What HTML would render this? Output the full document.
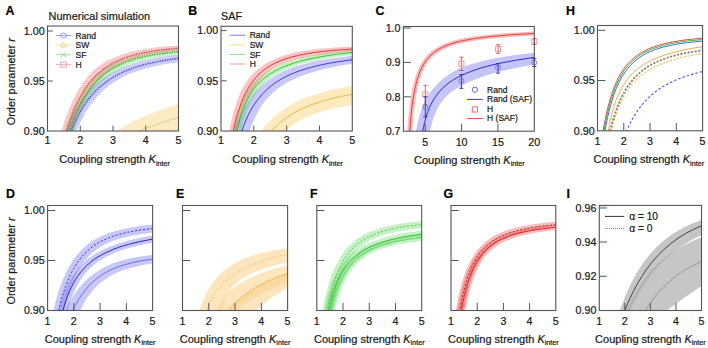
<!DOCTYPE html>
<html><head><meta charset="utf-8"><style>
html,body{margin:0;padding:0;background:#fff;width:708px;height:348px;overflow:hidden;}
svg{display:block;}
text{font-family:"Liberation Sans", sans-serif;stroke:#1a1a1a;stroke-width:0.22px;}
</style></head><body>
<svg width="708" height="348" viewBox="0 0 708 348" font-family='"Liberation Sans", sans-serif'>
<defs><clipPath id="clipA"><rect x="47.5" y="26" width="131.0" height="105"/></clipPath><clipPath id="clipB"><rect x="221" y="26.3" width="131.3" height="104.7"/></clipPath><clipPath id="clipC"><rect x="403.4" y="26.5" width="130.89999999999998" height="104.69999999999999"/></clipPath><clipPath id="clipH"><rect x="597.5" y="25.5" width="105.10000000000002" height="105.30000000000001"/></clipPath><clipPath id="clipD"><rect x="47.6" y="205.5" width="105.0" height="105.0"/></clipPath><clipPath id="clipE"><rect x="182.5" y="205.5" width="105.10000000000002" height="105.0"/></clipPath><clipPath id="clipF"><rect x="316.8" y="205.5" width="104.89999999999998" height="105.0"/></clipPath><clipPath id="clipG"><rect x="451" y="205.5" width="104.79999999999995" height="105.0"/></clipPath><clipPath id="clipI"><rect x="599.3" y="205.4" width="102.20000000000005" height="105.1"/></clipPath></defs>
<rect width="708" height="348" fill="#fff"/>
<path d="M74.4,170.9 L78.7,165.0 L83.2,159.5 L87.9,154.3 L92.8,149.4 L98.1,144.5 L103.7,140.0 L109.6,135.6 L115.8,131.5 L122.3,127.5 L129.1,123.7 L136.5,120.0 L144.1,116.6 L152.1,113.3 L160.5,110.1 L169.3,107.1 L178.5,104.3 L178.5,130.5 L142.6,135.6 L125.4,138.2 L108.8,140.9 L92.8,143.7 L77.2,146.6 L62.1,149.6 L47.5,152.7 Z" fill="#fbd88a" stroke="none" opacity="0.5" clip-path="url(#clipA)"/>
<path d="M59.7,191.9 L61.6,182.4 L63.6,173.5 L65.6,165.2 L67.7,157.2 L70.0,149.5 L72.3,142.5 L74.7,135.8 L77.2,129.5 L79.8,123.7 L82.5,118.2 L85.3,113.1 L88.3,108.2 L91.4,103.8 L94.6,99.6 L97.9,95.9 L101.8,91.9 L105.4,88.6 L109.2,85.5 L113.3,82.7 L117.5,80.0 L122.1,77.5 L127.0,75.1 L131.2,73.3 L136.8,71.2 L142.7,69.4 L149.0,67.6 L155.7,66.1 L162.9,64.6 L170.6,63.3 L178.9,62.0 L195.2,60.3 L194.5,52.8 L184.7,53.8 L173.7,55.1 L166.1,56.2 L159.0,57.3 L151.8,58.7 L145.1,60.2 L138.7,61.9 L132.8,63.7 L126.3,66.0 L121.1,68.1 L116.0,70.5 L111.1,73.1 L106.4,75.9 L101.9,79.0 L97.7,82.4 L93.6,86.0 L89.9,89.8 L86.2,94.1 L82.8,98.5 L79.6,103.3 L76.4,108.5 L73.5,113.8 L70.6,119.6 L67.9,125.8 L65.3,132.2 L62.8,139.2 L60.4,146.6 L58.2,154.3 L56.0,162.5 L53.8,171.3 L51.8,180.4 L49.9,190.1 Z" fill="#4848f0" stroke="none" opacity="0.28" clip-path="url(#clipA)"/>
<path d="M59.5,191.8 L61.4,181.3 L63.4,171.4 L65.4,161.9 L67.6,153.1 L69.8,144.8 L72.1,137.0 L74.5,129.6 L77.0,122.7 L79.6,116.4 L82.2,110.4 L85.0,104.9 L88.0,99.8 L91.0,95.0 L94.2,90.7 L97.4,86.8 L101.2,82.7 L104.7,79.4 L108.4,76.3 L112.2,73.5 L116.3,70.9 L120.8,68.4 L125.5,66.2 L130.5,64.2 L135.2,62.6 L141.1,60.9 L147.4,59.3 L154.3,58.0 L161.6,56.7 L169.8,55.6 L178.7,54.6 L195.0,53.4 L194.7,47.9 L184.9,48.5 L171.7,49.6 L164.2,50.3 L157.3,51.2 L150.2,52.3 L143.6,53.5 L137.4,54.9 L131.6,56.5 L125.3,58.5 L120.2,60.4 L115.2,62.6 L110.4,65.1 L105.9,67.8 L101.5,70.9 L97.3,74.2 L93.4,77.8 L89.8,81.9 L86.3,86.2 L83.0,90.9 L79.8,95.9 L76.8,101.2 L73.9,107.1 L71.1,113.3 L68.4,119.8 L65.9,126.8 L63.5,134.3 L61.1,142.4 L58.9,150.8 L56.7,159.9 L54.6,169.3 L52.6,179.6 L50.6,190.2 Z" fill="#28d028" stroke="none" opacity="0.26" clip-path="url(#clipA)"/>
<path d="M58.5,191.5 L60.3,180.7 L62.2,170.5 L64.2,161.0 L66.2,152.0 L68.4,143.5 L70.3,136.4 L72.6,129.0 L75.0,122.0 L77.5,115.4 L80.1,109.3 L82.8,103.6 L85.6,98.4 L88.5,93.5 L91.6,89.1 L94.8,85.0 L98.2,81.3 L102.7,76.8 L105.7,74.0 L109.4,71.1 L113.2,68.5 L117.4,65.9 L122.0,63.5 L127.1,61.3 L131.7,59.5 L137.8,57.7 L144.4,56.1 L151.6,54.6 L159.4,53.3 L168.6,52.1 L178.7,51.0 L195.0,50.0 L194.7,44.5 L170.3,46.0 L156.7,47.3 L149.8,48.2 L143.3,49.3 L137.3,50.5 L131.6,51.8 L124.6,53.8 L119.7,55.4 L114.6,57.4 L109.8,59.6 L105.1,62.1 L100.7,64.9 L96.5,68.0 L92.6,71.3 L88.8,75.4 L85.2,79.8 L81.7,84.6 L78.5,89.7 L75.4,95.2 L72.4,101.2 L69.6,107.5 L66.8,114.5 L64.2,122.0 L61.8,129.9 L59.5,138.0 L56.9,147.9 L54.7,157.5 L52.6,167.7 L50.6,178.6 L48.6,189.9 Z" fill="#f03030" stroke="none" opacity="0.27" clip-path="url(#clipA)"/>
<path d="M76.0,170.9 L80.7,166.6 L85.6,162.5 L90.8,158.4 L96.1,154.6 L101.6,150.8 L107.4,147.2 L113.3,143.8 L119.5,140.4 L125.8,137.2 L132.6,134.1 L139.5,131.0 L146.7,128.1 L154.3,125.3 L162.1,122.5 L170.1,119.9 L178.5,117.4" fill="none" stroke="#e2b440" stroke-width="1.1" stroke-dasharray="1.3 1.5" opacity="1" clip-path="url(#clipA)" />
<path d="M59.2,170.4 L62.9,156.0 L64.9,149.0 L67.0,142.5 L69.0,136.7 L71.3,130.7 L73.5,125.3 L75.8,120.4 L78.3,115.5 L80.7,111.0 L83.4,106.6 L86.0,102.7 L88.9,98.8 L92.0,95.0 L95.1,91.6 L98.3,88.4 L101.8,85.3 L105.3,82.5 L109.0,79.9 L112.9,77.4 L117.0,75.0 L121.1,73.0 L125.6,70.9 L130.3,69.1 L135.2,67.3 L140.4,65.7 L145.9,64.2 L151.6,62.9 L157.8,61.6 L164.4,60.4 L178.5,58.3" fill="none" stroke="#5050d8" stroke-width="1.5" stroke-dasharray="1.5 1.0" opacity="1" clip-path="url(#clipA)" />
<path d="M59.0,170.4 L62.7,154.1 L64.5,147.0 L66.6,139.7 L68.6,133.0 L70.9,126.3 L73.1,120.2 L75.4,114.7 L77.8,109.2 L80.3,104.2 L83.0,99.4 L85.6,95.0 L88.5,90.8 L91.4,87.0 L94.4,83.4 L97.7,79.9 L101.0,76.8 L104.5,74.0 L108.2,71.3 L111.9,68.9 L115.8,66.7 L120.1,64.6 L124.4,62.7 L129.1,60.9 L134.0,59.3 L139.1,57.9 L144.7,56.6 L150.6,55.4 L156.8,54.4 L163.5,53.4 L178.5,51.8" fill="none" stroke="#44b444" stroke-width="1.5" stroke-dasharray="1.5 1.0" opacity="1" clip-path="url(#clipA)" />
<path d="M57.1,170.6 L60.8,153.2 L62.7,145.5 L64.7,137.8 L66.8,130.7 L68.8,124.3 L71.1,117.8 L73.3,112.0 L75.8,106.2 L78.3,101.0 L80.7,96.4 L83.4,91.8 L86.2,87.4 L89.1,83.5 L92.2,79.7 L95.5,76.2 L98.8,73.1 L102.2,70.2 L105.9,67.5 L109.6,65.1 L113.5,62.9 L117.8,60.7 L122.3,58.8 L127.0,57.1 L132.2,55.5 L137.5,54.1 L143.2,52.8 L149.2,51.7 L155.7,50.7 L162.7,49.8 L178.5,48.2" fill="none" stroke="#dc5050" stroke-width="1.5" stroke-dasharray="1.5 1.0" opacity="1" clip-path="url(#clipA)" />
<line x1="47.5" y1="31.00" x2="52.8" y2="31.00" stroke="#555555" stroke-width="1"/>
<text x="44.6" y="34.8" font-size="10.7" text-anchor="end" font-weight="normal" fill="#1a1a1a" >1.00</text>
<line x1="47.5" y1="81.00" x2="52.8" y2="81.00" stroke="#555555" stroke-width="1"/>
<text x="44.6" y="84.80000000000005" font-size="10.7" text-anchor="end" font-weight="normal" fill="#1a1a1a" >0.95</text>
<text x="44.6" y="134.8" font-size="10.7" text-anchor="end" font-weight="normal" fill="#1a1a1a" >0.90</text>
<text x="47.5" y="144.0" font-size="10.7" text-anchor="middle" font-weight="normal" fill="#1a1a1a" >1</text>
<line x1="80.25" y1="131" x2="80.25" y2="125.7" stroke="#555555" stroke-width="1"/>
<text x="80.25" y="144.0" font-size="10.7" text-anchor="middle" font-weight="normal" fill="#1a1a1a" >2</text>
<line x1="113.00" y1="131" x2="113.00" y2="125.7" stroke="#555555" stroke-width="1"/>
<text x="113.0" y="144.0" font-size="10.7" text-anchor="middle" font-weight="normal" fill="#1a1a1a" >3</text>
<line x1="145.75" y1="131" x2="145.75" y2="125.7" stroke="#555555" stroke-width="1"/>
<text x="145.75" y="144.0" font-size="10.7" text-anchor="middle" font-weight="normal" fill="#1a1a1a" >4</text>
<text x="178.5" y="144.0" font-size="10.7" text-anchor="middle" font-weight="normal" fill="#1a1a1a" >5</text>
<rect x="47.5" y="26" width="131.0" height="105" fill="none" stroke="#555555" stroke-width="1.1"/>
<text x="114.6" y="163.3" font-size="11" text-anchor="middle" fill="#1a1a1a">Coupling strength <tspan font-style="italic">K</tspan><tspan font-size="7.2" dy="2.6">inter</tspan></text>
<text transform="translate(15.1,81.7) rotate(-90)" font-size="10.9" text-anchor="middle" fill="#1a1a1a">Order parameter <tspan font-style="italic">r</tspan></text>
<text x="5.4" y="15" font-size="12.4" text-anchor="start" font-weight="bold" fill="#000" >A</text>
<text x="48.6" y="19.8" font-size="10.95" text-anchor="start" font-weight="normal" fill="#1a1a1a" >Numerical simulation</text>
<line x1="56" y1="35.5" x2="71" y2="35.5" stroke="#8a8ae8" stroke-width="0.8"/>
<ellipse cx="63.5" cy="35.5" rx="3" ry="2.5" fill="none" stroke="#8a8ae8" stroke-width="0.9"/>
<text x="75.6" y="38.5" font-size="8.5" text-anchor="start" font-weight="normal" fill="#1a1a1a" >Rand</text>
<line x1="56" y1="45" x2="71" y2="45" stroke="#f2d48a" stroke-width="0.8"/>
<path d="M60.5,47.2 L63.5,42 L66.5,47.2 Z" fill="none" stroke="#f2d48a" stroke-width="0.9"/>
<text x="75.6" y="48" font-size="8.5" text-anchor="start" font-weight="normal" fill="#1a1a1a" >SW</text>
<line x1="56" y1="54.7" x2="71" y2="54.7" stroke="#8ed88e" stroke-width="0.8"/>
<path d="M60.7,52.2 L66.3,57.2 M60.7,57.2 L66.3,52.2" stroke="#8ed88e" stroke-width="0.9"/>
<text x="75.6" y="57.7" font-size="8.5" text-anchor="start" font-weight="normal" fill="#1a1a1a" >SF</text>
<line x1="56" y1="64.6" x2="71" y2="64.6" stroke="#eea0a0" stroke-width="0.8"/>
<rect x="60.7" y="61.99999999999999" width="5.6" height="5.2" fill="none" stroke="#eea0a0" stroke-width="0.9"/>
<text x="75.6" y="67.6" font-size="8.5" text-anchor="start" font-weight="normal" fill="#1a1a1a" >H</text>
<path d="M238.9,170.9 L243.2,160.9 L247.7,151.7 L252.4,143.3 L257.4,135.8 L260.0,132.1 L262.7,128.8 L265.4,125.6 L268.3,122.5 L271.1,119.6 L274.2,116.8 L277.3,114.2 L280.6,111.6 L283.9,109.2 L287.4,107.0 L290.9,104.9 L294.6,102.8 L302.4,99.1 L310.8,95.8 L319.8,92.9 L329.7,90.3 L340.4,88.1 L352.3,86.1 L352.3,104.8 L341.8,106.7 L332.3,108.8 L323.6,111.0 L315.7,113.5 L308.5,116.3 L302.0,119.3 L296.3,122.5 L291.0,126.1 L286.3,130.0 L282.0,134.4 L278.2,139.1 L274.8,144.3 L271.8,149.8 L269.0,156.1 L266.6,163.0 L264.3,170.9 Z" fill="#fbd88a" stroke="none" opacity="0.55" clip-path="url(#clipB)"/>
<path d="M236.3,191.9 L237.7,182.4 L239.1,173.7 L240.7,165.3 L242.3,157.4 L244.0,150.2 L246.1,142.1 L248.0,135.8 L250.0,129.8 L252.1,124.3 L254.3,119.1 L256.7,114.3 L259.2,109.8 L261.9,105.5 L264.8,101.5 L267.9,97.8 L271.2,94.3 L274.7,91.2 L278.3,88.3 L282.4,85.4 L286.7,82.8 L291.3,80.4 L296.2,78.0 L301.6,75.8 L307.0,73.9 L313.5,71.9 L320.5,70.0 L328.0,68.2 L336.0,66.6 L344.1,65.1 L352.8,63.7 L369.1,61.9 L368.3,53.9 L342.0,56.9 L327.5,58.9 L319.9,60.3 L312.8,61.7 L306.2,63.4 L299.7,65.2 L293.8,67.1 L288.2,69.2 L282.9,71.5 L278.0,74.0 L273.3,76.8 L268.8,79.7 L264.7,82.9 L260.8,86.3 L257.0,90.0 L253.4,94.0 L250.1,98.3 L247.0,102.9 L244.0,107.9 L241.2,113.3 L238.6,118.9 L236.1,125.0 L233.8,131.6 L231.6,138.4 L229.9,144.6 L228.0,152.7 L226.2,161.0 L224.5,170.1 L222.9,179.8 L221.5,189.9 Z" fill="#4848f0" stroke="none" opacity="0.3" clip-path="url(#clipB)"/>
<path d="M232.8,190.7 L234.8,169.4 L236.0,159.7 L237.2,150.7 L238.6,142.5 L240.0,134.9 L241.6,127.8 L243.3,121.3 L245.1,115.4 L247.1,109.8 L249.3,104.8 L251.6,100.1 L254.0,96.0 L256.6,92.1 L259.8,87.9 L263.2,84.2 L266.6,81.0 L270.3,78.1 L274.4,75.3 L278.8,72.7 L283.1,70.5 L287.7,68.4 L293.2,66.4 L299.2,64.5 L305.9,62.7 L313.1,61.0 L320.9,59.5 L329.4,58.0 L339.1,56.6 L349.6,55.2 L368.9,53.3 L368.5,48.4 L344.1,50.8 L334.9,51.9 L326.3,53.1 L318.0,54.4 L310.3,55.9 L303.1,57.5 L296.4,59.3 L289.9,61.3 L282.9,63.8 L277.8,65.9 L273.0,68.2 L268.4,70.8 L264.1,73.7 L260.1,76.8 L256.4,80.2 L253.2,83.6 L250.3,87.2 L247.3,91.6 L244.5,96.3 L242.0,101.3 L239.8,106.6 L237.7,112.4 L235.7,118.7 L234.0,125.3 L232.3,132.5 L230.8,140.5 L229.4,148.8 L228.1,157.9 L226.9,168.0 L225.8,178.5 L224.8,190.1 Z" fill="#28d028" stroke="none" opacity="0.28" clip-path="url(#clipB)"/>
<path d="M228.2,191.1 L229.6,178.5 L231.0,167.1 L232.5,156.6 L234.0,146.7 L235.4,139.6 L237.1,131.6 L238.9,124.6 L240.8,118.0 L242.8,111.7 L244.9,106.0 L247.2,100.7 L249.6,95.9 L253.6,88.8 L256.2,84.7 L259.4,80.5 L263.0,76.6 L266.3,73.5 L269.9,70.7 L273.0,68.6 L277.3,66.3 L282.0,64.2 L287.0,62.3 L292.5,60.5 L298.4,58.9 L305.0,57.4 L312.3,56.1 L320.3,54.9 L329.0,53.7 L340.1,52.6 L352.4,51.5 L368.8,50.7 L368.6,45.7 L339.0,47.2 L322.3,48.5 L314.1,49.3 L306.6,50.4 L299.7,51.5 L293.2,52.9 L287.2,54.5 L281.6,56.2 L276.4,58.2 L271.6,60.4 L266.3,63.3 L262.3,65.9 L258.3,68.9 L254.5,72.3 L251.3,75.6 L248.3,79.3 L245.5,83.2 L242.9,87.5 L240.4,92.6 L238.1,98.3 L236.0,104.4 L234.0,110.8 L231.9,118.6 L230.0,127.2 L228.3,135.7 L226.3,147.6 L224.8,157.1 L223.4,167.5 L220.8,190.4 Z" fill="#f03030" stroke="none" opacity="0.29" clip-path="url(#clipB)"/>
<path d="M249.2,170.7 L252.4,162.3 L256.1,154.2 L260.0,147.0 L264.4,140.2 L268.9,134.2 L273.8,128.6 L279.2,123.5 L284.9,118.8 L291.1,114.6 L297.8,110.8 L305.0,107.3 L313.1,104.1 L321.7,101.3 L330.9,98.7 L341.2,96.4 L352.3,94.3" fill="none" stroke="#e8b440" stroke-width="0.9" opacity="1" clip-path="url(#clipB)" />
<path d="M232.1,170.3 L235.0,155.8 L236.6,148.7 L238.3,142.4 L240.1,136.1 L242.0,130.5 L243.8,125.4 L245.9,120.4 L247.9,115.8 L250.2,111.4 L252.6,107.1 L255.1,103.2 L257.8,99.5 L260.7,96.0 L263.7,92.6 L266.8,89.6 L270.1,86.7 L273.6,84.0 L277.3,81.5 L281.4,79.0 L285.5,76.8 L290.0,74.6 L294.8,72.6 L299.7,70.8 L305.0,69.1 L310.6,67.5 L316.5,65.9 L322.9,64.5 L329.5,63.2 L336.7,62.0 L352.3,59.7" fill="none" stroke="#3b3bd6" stroke-width="1.0" opacity="1" clip-path="url(#clipB)" />
<path d="M230.7,170.5 L232.7,153.8 L233.9,145.7 L235.2,138.7 L236.6,131.6 L238.1,125.4 L239.7,119.3 L241.3,114.1 L243.2,108.9 L245.2,103.9 L247.3,99.6 L249.6,95.5 L252.0,91.6 L254.7,88.0 L257.6,84.6 L260.5,81.6 L263.7,78.6 L267.2,75.9 L270.9,73.4 L274.8,71.1 L279.2,68.8 L283.7,66.8 L288.6,64.9 L293.9,63.1 L299.7,61.4 L305.7,59.8 L312.0,58.4 L319.0,57.0 L326.4,55.8 L334.4,54.6 L352.3,52.4" fill="none" stroke="#3cc23c" stroke-width="1.0" opacity="1" clip-path="url(#clipB)" />
<path d="M226.8,170.7 L229.4,151.7 L230.9,143.1 L232.3,135.5 L233.9,127.8 L235.6,121.1 L237.4,114.4 L239.3,108.5 L241.3,102.7 L243.4,97.7 L245.7,92.9 L247.9,88.7 L250.4,84.7 L253.1,81.0 L255.9,77.4 L259.0,74.2 L262.1,71.4 L265.6,68.7 L269.3,66.2 L273.2,64.0 L277.3,62.0 L281.8,60.2 L286.8,58.4 L291.9,56.9 L297.4,55.6 L303.6,54.3 L310.2,53.1 L317.2,52.1 L324.8,51.2 L333.2,50.4 L352.3,49.0" fill="none" stroke="#e03a3a" stroke-width="1.0" opacity="1" clip-path="url(#clipB)" />
<line x1="221" y1="30.60" x2="226.5" y2="30.60" stroke="#555555" stroke-width="1"/>
<text x="218.1" y="34.4" font-size="10.7" text-anchor="end" font-weight="normal" fill="#1a1a1a" >1.00</text>
<line x1="221" y1="80.80" x2="226.5" y2="80.80" stroke="#555555" stroke-width="1"/>
<text x="218.1" y="84.60000000000007" font-size="10.7" text-anchor="end" font-weight="normal" fill="#1a1a1a" >0.95</text>
<text x="218.1" y="134.8" font-size="10.7" text-anchor="end" font-weight="normal" fill="#1a1a1a" >0.90</text>
<text x="221.0" y="144.0" font-size="10.7" text-anchor="middle" font-weight="normal" fill="#1a1a1a" >1</text>
<line x1="253.82" y1="131" x2="253.82" y2="125.5" stroke="#555555" stroke-width="1"/>
<text x="253.825" y="144.0" font-size="10.7" text-anchor="middle" font-weight="normal" fill="#1a1a1a" >2</text>
<line x1="286.65" y1="131" x2="286.65" y2="125.5" stroke="#555555" stroke-width="1"/>
<text x="286.65" y="144.0" font-size="10.7" text-anchor="middle" font-weight="normal" fill="#1a1a1a" >3</text>
<line x1="319.48" y1="131" x2="319.48" y2="125.5" stroke="#555555" stroke-width="1"/>
<text x="319.475" y="144.0" font-size="10.7" text-anchor="middle" font-weight="normal" fill="#1a1a1a" >4</text>
<text x="352.3" y="144.0" font-size="10.7" text-anchor="middle" font-weight="normal" fill="#1a1a1a" >5</text>
<rect x="221" y="26.3" width="131.3" height="104.7" fill="none" stroke="#555555" stroke-width="1.1"/>
<text x="287.65" y="163.3" font-size="11" text-anchor="middle" fill="#1a1a1a">Coupling strength <tspan font-style="italic">K</tspan><tspan font-size="7.2" dy="2.6">inter</tspan></text>
<text x="188.2" y="15" font-size="12.4" text-anchor="start" font-weight="bold" fill="#000" >B</text>
<text x="221" y="20.1" font-size="10.8" text-anchor="start" font-weight="normal" fill="#1a1a1a" >SAF</text>
<line x1="229.6" y1="35.2" x2="245" y2="35.2" stroke="#6a72d8" stroke-width="0.9"/>
<text x="249.7" y="38.2" font-size="8.5" text-anchor="start" font-weight="normal" fill="#1a1a1a" >Rand</text>
<line x1="229.6" y1="44.9" x2="245" y2="44.9" stroke="#f0d890" stroke-width="0.9"/>
<text x="249.7" y="47.9" font-size="8.5" text-anchor="start" font-weight="normal" fill="#1a1a1a" >SW</text>
<line x1="229.6" y1="54.6" x2="245" y2="54.6" stroke="#86d890" stroke-width="0.9"/>
<text x="249.7" y="57.6" font-size="8.5" text-anchor="start" font-weight="normal" fill="#1a1a1a" >SF</text>
<line x1="229.6" y1="64" x2="245" y2="64" stroke="#f08a8a" stroke-width="0.9"/>
<text x="249.7" y="67" font-size="8.5" text-anchor="start" font-weight="normal" fill="#1a1a1a" >H</text>
<path d="M424.3,190.8 L425.3,171.3 L426.6,154.7 L427.4,147.5 L428.3,140.9 L429.3,134.9 L430.4,129.5 L431.6,124.3 L433.0,119.6 L434.5,115.2 L436.2,111.2 L438.1,107.5 L440.1,104.1 L442.3,100.9 L444.7,98.0 L447.4,95.2 L450.5,92.6 L453.8,90.2 L457.4,87.9 L461.4,85.7 L469.7,81.8 L474.4,79.7 L479.5,77.8 L485.3,75.8 L491.6,73.8 L498.4,72.0 L505.7,70.2 L514.0,68.3 L523.0,66.5 L535.1,64.3 L538.7,63.9 L537.2,52.4 L514.8,55.1 L506.2,56.4 L498.1,57.7 L490.2,59.3 L482.9,60.9 L476.2,62.7 L469.8,64.6 L463.7,66.8 L458.0,69.1 L451.5,72.8 L447.0,75.7 L442.9,78.8 L439.1,82.2 L435.7,85.7 L432.6,89.2 L429.8,93.0 L427.3,97.1 L424.9,101.5 L422.8,106.1 L421.0,111.0 L419.3,116.3 L417.8,122.1 L416.5,128.2 L415.3,134.8 L414.3,141.9 L413.4,150.0 L412.6,158.4 L411.9,167.8 L410.8,190.3 Z" fill="#5050f0" stroke="none" opacity="0.33" clip-path="url(#clipC)"/>
<path d="M409.6,190.5 L410.6,160.6 L411.9,135.8 L412.7,125.3 L413.5,115.8 L414.4,107.3 L415.5,99.5 L416.7,92.6 L418.0,86.2 L419.5,80.6 L421.0,75.7 L422.8,71.2 L424.8,67.1 L427.0,63.5 L429.5,60.1 L432.2,57.2 L435.2,54.6 L438.5,52.2 L442.3,50.0 L446.5,48.0 L451.2,46.2 L456.3,44.6 L462.1,43.2 L468.5,41.8 L475.7,40.6 L483.7,39.5 L492.5,38.5 L502.3,37.6 L513.2,36.7 L538.0,35.3 L537.8,31.3 L511.6,32.7 L500.5,33.5 L490.6,34.4 L481.6,35.4 L473.6,36.5 L466.3,37.7 L459.6,39.1 L453.7,40.6 L448.4,42.3 L443.6,44.1 L439.2,46.2 L435.3,48.5 L431.7,51.1 L428.5,53.9 L425.6,57.1 L423.0,60.4 L420.6,64.3 L418.5,68.5 L416.6,73.2 L414.9,78.4 L413.4,84.1 L412.0,90.5 L410.8,97.5 L409.7,105.2 L408.7,113.9 L407.8,123.2 L407.0,134.1 L405.6,159.3 L404.6,190.3 Z" fill="#f03c3c" stroke="none" opacity="0.35" clip-path="url(#clipC)"/>
<path d="M418.4,170.7 L419.7,153.6 L420.5,146.5 L421.4,139.2 L422.3,133.3 L423.5,127.4 L424.6,122.5 L425.9,117.6 L427.4,112.9 L429.1,108.5 L430.9,104.4 L432.8,100.9 L434.9,97.5 L437.3,94.1 L439.7,91.2 L442.5,88.3 L445.5,85.6 L448.8,82.9 L452.6,80.3 L456.5,78.0 L460.8,75.7 L465.5,73.6 L470.5,71.6 L475.7,69.7 L481.3,67.9 L487.5,66.2 L494.0,64.6 L501.1,63.0 L516.6,60.1 L534.3,57.4" fill="none" stroke="#2a2ad0" stroke-width="1.0" opacity="1" clip-path="url(#clipC)" />
<path d="M407.7,170.3 L408.9,143.4 L410.4,122.7 L411.2,113.9 L412.2,105.1 L413.2,97.9 L414.3,92.0 L415.5,86.1 L416.9,80.4 L418.4,75.8 L420.0,71.4 L421.8,67.4 L423.9,63.7 L426.1,60.4 L428.8,57.1 L431.7,54.3 L434.7,51.8 L438.2,49.5 L442.1,47.4 L446.2,45.6 L450.9,43.9 L456.0,42.3 L461.8,40.9 L467.9,39.7 L474.9,38.5 L482.7,37.4 L491.1,36.5 L510.5,34.8 L534.3,33.5" fill="none" stroke="#e84040" stroke-width="1.0" opacity="1" clip-path="url(#clipC)" />
<path d="M425.3,85.4 L425.3,104.6 M423.3,85.4 L427.3,85.4 M423.3,104.6 L427.3,104.6" stroke="#e46060" stroke-width="1" fill="none"/>
<rect x="422.8" y="92.0" width="5" height="5" fill="none" stroke="#f09090" stroke-width="0.9"/>
<path d="M461.4,57.2 L461.4,70.5 M459.4,57.2 L463.4,57.2 M459.4,70.5 L463.4,70.5" stroke="#e46060" stroke-width="1" fill="none"/>
<rect x="458.9" y="61.1" width="5" height="5" fill="none" stroke="#f09090" stroke-width="0.9"/>
<path d="M498.1,44.7 L498.1,53.3 M496.1,44.7 L500.1,44.7 M496.1,53.3 L500.1,53.3" stroke="#e46060" stroke-width="1" fill="none"/>
<rect x="495.6" y="46.5" width="5" height="5" fill="none" stroke="#f09090" stroke-width="0.9"/>
<path d="M534.3,38.5 L534.3,44.4 M532.3,38.5 L536.3,38.5 M532.3,44.4 L536.3,44.4" stroke="#e46060" stroke-width="1" fill="none"/>
<rect x="531.8" y="39.0" width="5" height="5" fill="none" stroke="#f09090" stroke-width="0.9"/>
<path d="M425.3,96.8 L425.3,117 M423.3,96.8 L427.3,96.8 M423.3,117 L427.3,117" stroke="#3434c4" stroke-width="1" fill="none"/>
<circle cx="425.3" cy="107.2" r="2.5" fill="none" stroke="#7070dc" stroke-width="0.9"/>
<path d="M461.4,74.5 L461.4,88.3 M459.4,74.5 L463.4,74.5 M459.4,88.3 L463.4,88.3" stroke="#3434c4" stroke-width="1" fill="none"/>
<circle cx="461.4" cy="80.9" r="2.5" fill="none" stroke="#7070dc" stroke-width="0.9"/>
<path d="M498.1,63.6 L498.1,73.1 M496.1,63.6 L500.1,63.6 M496.1,73.1 L500.1,73.1" stroke="#3434c4" stroke-width="1" fill="none"/>
<circle cx="498.1" cy="67.6" r="2.5" fill="none" stroke="#7070dc" stroke-width="0.9"/>
<path d="M534.3,58.6 L534.3,66.6 M532.3,58.6 L536.3,58.6 M532.3,66.6 L536.3,66.6" stroke="#3434c4" stroke-width="1" fill="none"/>
<circle cx="534.3" cy="62.7" r="2.5" fill="none" stroke="#7070dc" stroke-width="0.9"/>
<line x1="403.4" y1="28.00" x2="410.9" y2="28.00" stroke="#555555" stroke-width="1"/>
<text x="400.5" y="31.8" font-size="10.7" text-anchor="end" font-weight="normal" fill="#1a1a1a" >1.0</text>
<line x1="403.4" y1="62.40" x2="410.9" y2="62.40" stroke="#555555" stroke-width="1"/>
<text x="400.5" y="66.19999999999999" font-size="10.7" text-anchor="end" font-weight="normal" fill="#1a1a1a" >0.9</text>
<line x1="403.4" y1="96.80" x2="410.9" y2="96.80" stroke="#555555" stroke-width="1"/>
<text x="400.5" y="100.59999999999997" font-size="10.7" text-anchor="end" font-weight="normal" fill="#1a1a1a" >0.8</text>
<text x="400.5" y="135.0" font-size="10.7" text-anchor="end" font-weight="normal" fill="#1a1a1a" >0.7</text>
<line x1="425.22" y1="131.2" x2="425.22" y2="123.69999999999999" stroke="#555555" stroke-width="1"/>
<text x="425.21666666666664" y="146.0" font-size="10.7" text-anchor="middle" font-weight="normal" fill="#1a1a1a" >5</text>
<line x1="461.58" y1="131.2" x2="461.58" y2="123.69999999999999" stroke="#555555" stroke-width="1"/>
<text x="461.5777777777777" y="146.0" font-size="10.7" text-anchor="middle" font-weight="normal" fill="#1a1a1a" >10</text>
<line x1="497.94" y1="131.2" x2="497.94" y2="123.69999999999999" stroke="#555555" stroke-width="1"/>
<text x="497.93888888888887" y="146.0" font-size="10.7" text-anchor="middle" font-weight="normal" fill="#1a1a1a" >15</text>
<text x="534.3" y="146.0" font-size="10.7" text-anchor="middle" font-weight="normal" fill="#1a1a1a" >20</text>
<rect x="403.4" y="26.5" width="130.89999999999998" height="104.69999999999999" fill="none" stroke="#555555" stroke-width="1.1"/>
<text x="469.34999999999997" y="163.5" font-size="11" text-anchor="middle" fill="#1a1a1a">Coupling strength <tspan font-style="italic">K</tspan><tspan font-size="7.2" dy="2.6">inter</tspan></text>
<text x="375.6" y="14.9" font-size="12.4" text-anchor="start" font-weight="bold" fill="#000" >C</text>
<circle cx="474.9" cy="89.7" r="2.6" fill="none" stroke="#6060d8" stroke-width="1"/>
<text x="487.1" y="92.5" font-size="8.5" text-anchor="start" font-weight="normal" fill="#1a1a1a" >Rand</text>
<line x1="467.1" y1="99.4" x2="482.6" y2="99.4" stroke="#3030c8" stroke-width="1"/>
<text x="487.1" y="102.2" font-size="8.5" text-anchor="start" font-weight="normal" fill="#1a1a1a" >Rand (SAF)</text>
<rect x="472.3" y="106.9" width="5.2" height="5.2" fill="none" stroke="#e87070" stroke-width="1"/>
<text x="487.1" y="111.8" font-size="8.5" text-anchor="start" font-weight="normal" fill="#1a1a1a" >H</text>
<line x1="467.1" y1="118.5" x2="482.6" y2="118.5" stroke="#e85050" stroke-width="1"/>
<text x="487.1" y="121.3" font-size="8.5" text-anchor="start" font-weight="normal" fill="#1a1a1a" >H (SAF)</text>
<path d="M598.0,170.0 L600.3,150.1 L602.9,132.1 L604.2,124.5 L605.7,117.0 L607.2,110.3 L608.8,103.7 L610.5,98.0 L612.3,92.3 L614.3,87.0 L616.3,82.3 L618.4,77.8 L620.7,73.7 L623.2,69.8 L625.8,66.2 L628.4,63.1 L631.4,60.1 L634.3,57.5 L637.6,55.0 L641.1,52.8 L644.9,50.7 L649.0,48.7 L653.3,47.0 L657.9,45.5 L662.8,44.1 L668.2,42.8 L674.0,41.7 L680.2,40.6 L687.1,39.7 L702.6,38.1" fill="none" stroke="#e04848" stroke-width="1.0" opacity="1" clip-path="url(#clipH)" />
<path d="M598.7,170.7 L601.0,151.2 L603.6,133.4 L605.1,125.1 L606.5,117.7 L608.0,111.1 L609.7,104.6 L611.5,98.4 L613.3,92.9 L615.3,87.6 L617.2,83.0 L619.4,78.6 L621.7,74.5 L624.1,70.7 L626.6,67.4 L629.2,64.3 L632.2,61.3 L635.2,58.7 L638.5,56.2 L641.9,54.0 L645.7,51.9 L649.6,50.0 L653.9,48.3 L658.5,46.8 L663.5,45.4 L668.7,44.1 L674.5,43.0 L680.6,42.0 L687.3,41.0 L702.6,39.5" fill="none" stroke="#40b840" stroke-width="1.0" opacity="1" clip-path="url(#clipH)" />
<path d="M599.5,169.8 L601.9,149.9 L604.6,132.9 L606.1,124.9 L607.5,117.8 L609.0,111.4 L610.7,105.2 L612.5,99.1 L614.3,93.7 L616.3,88.6 L618.2,84.0 L620.4,79.7 L622.7,75.7 L625.1,71.9 L627.6,68.6 L630.2,65.6 L633.0,62.7 L636.0,60.1 L639.3,57.7 L642.7,55.4 L646.3,53.4 L650.3,51.6 L654.6,49.8 L659.0,48.3 L663.9,46.9 L669.2,45.7 L674.8,44.5 L680.9,43.5 L687.5,42.6 L702.6,41.0" fill="none" stroke="#4070e0" stroke-width="1.0" opacity="1" clip-path="url(#clipH)" />
<path d="M603.4,170.3 L605.2,152.2 L607.2,137.3 L609.5,124.1 L610.8,118.0 L612.3,112.1 L613.8,106.9 L615.4,101.9 L617.2,97.2 L619.0,93.0 L621.0,89.1 L623.2,85.3 L625.5,81.8 L627.9,78.5 L630.6,75.4 L633.5,72.4 L636.5,69.8 L639.8,67.2 L643.2,64.9 L647.0,62.6 L651.1,60.5 L655.4,58.5 L660.0,56.7 L664.9,55.0 L670.2,53.3 L675.8,51.8 L681.9,50.4 L688.3,49.0 L702.6,46.6" fill="none" stroke="#f0b050" stroke-width="1.0" opacity="1" clip-path="url(#clipH)" />
<path d="M604.6,170.3 L606.9,154.1 L609.3,140.3 L612.1,127.9 L613.6,122.3 L615.3,116.9 L616.9,112.0 L618.7,107.3 L620.7,102.7 L622.7,98.7 L624.8,94.8 L627.1,91.0 L629.6,87.5 L632.0,84.4 L634.7,81.4 L637.6,78.5 L640.6,75.9 L643.9,73.4 L647.3,71.0 L651.0,68.8 L654.7,66.8 L658.8,64.9 L663.1,63.1 L667.7,61.5 L672.7,59.9 L677.9,58.4 L683.5,57.0 L689.4,55.8 L702.6,53.4" fill="none" stroke="#f0bc50" stroke-width="1.1" stroke-dasharray="2 1.6" opacity="1" clip-path="url(#clipH)" />
<path d="M602.8,169.8 L605.4,153.2 L608.2,138.8 L609.7,132.3 L611.3,125.7 L613.0,119.9 L614.8,114.1 L616.6,108.9 L618.6,103.9 L620.5,99.4 L622.7,95.0 L625.0,90.8 L627.3,87.1 L629.7,83.6 L632.4,80.3 L635.2,77.1 L638.0,74.3 L640.9,71.7 L644.2,69.2 L647.7,66.8 L651.3,64.7 L655.1,62.7 L659.2,60.8 L663.5,59.1 L668.1,57.5 L673.0,56.0 L678.1,54.7 L683.7,53.4 L689.6,52.3 L702.6,50.3" fill="none" stroke="#8a8272" stroke-width="1.7" stroke-dasharray="2.2 1.4" opacity="1" clip-path="url(#clipH)" />
<path d="M614.1,170.5 L616.9,159.2 L620.0,148.5 L623.3,138.9 L626.9,130.0 L630.9,121.8 L635.0,114.6 L637.1,111.4 L639.4,108.1 L641.9,105.0 L644.4,102.1 L647.0,99.3 L649.6,96.7 L652.4,94.2 L655.4,91.8 L658.5,89.5 L661.6,87.5 L664.9,85.5 L668.4,83.6 L675.8,80.0 L683.8,76.9 L692.7,74.1 L702.6,71.5" fill="none" stroke="#4a6ae0" stroke-width="1.2" stroke-dasharray="2.5 2" opacity="1" clip-path="url(#clipH)" />
<line x1="597.5" y1="30.30" x2="605.3" y2="30.30" stroke="#555555" stroke-width="1"/>
<text x="594.6" y="34.1" font-size="10.7" text-anchor="end" font-weight="normal" fill="#1a1a1a" >1.00</text>
<line x1="597.5" y1="80.55" x2="605.3" y2="80.55" stroke="#555555" stroke-width="1"/>
<text x="594.6" y="84.35000000000005" font-size="10.7" text-anchor="end" font-weight="normal" fill="#1a1a1a" >0.95</text>
<text x="594.6" y="134.60000000000002" font-size="10.7" text-anchor="end" font-weight="normal" fill="#1a1a1a" >0.90</text>
<text x="597.5" y="144.70000000000002" font-size="10.7" text-anchor="middle" font-weight="normal" fill="#1a1a1a" >1</text>
<line x1="623.77" y1="130.8" x2="623.77" y2="123.00000000000001" stroke="#555555" stroke-width="1"/>
<text x="623.775" y="144.70000000000002" font-size="10.7" text-anchor="middle" font-weight="normal" fill="#1a1a1a" >2</text>
<line x1="650.05" y1="130.8" x2="650.05" y2="123.00000000000001" stroke="#555555" stroke-width="1"/>
<text x="650.05" y="144.70000000000002" font-size="10.7" text-anchor="middle" font-weight="normal" fill="#1a1a1a" >3</text>
<line x1="676.33" y1="130.8" x2="676.33" y2="123.00000000000001" stroke="#555555" stroke-width="1"/>
<text x="676.325" y="144.70000000000002" font-size="10.7" text-anchor="middle" font-weight="normal" fill="#1a1a1a" >4</text>
<text x="702.6" y="144.70000000000002" font-size="10.7" text-anchor="middle" font-weight="normal" fill="#1a1a1a" >5</text>
<rect x="597.5" y="25.5" width="105.10000000000002" height="105.30000000000001" fill="none" stroke="#555555" stroke-width="1.1"/>
<text x="648.75" y="163.10000000000002" font-size="11" text-anchor="middle" fill="#1a1a1a">Coupling strength <tspan font-style="italic">K</tspan><tspan font-size="7.2" dy="2.6">inter</tspan></text>
<text x="566" y="14.5" font-size="12.4" text-anchor="start" font-weight="bold" fill="#000" >H</text>
<path d="M62.1,371.9 L65.4,356.5 L69.4,340.9 L72.8,329.5 L76.5,319.3 L78.5,314.4 L80.6,309.8 L82.8,305.5 L85.0,301.4 L87.4,297.6 L89.9,294.0 L92.2,291.2 L94.9,288.0 L97.7,285.3 L100.7,282.6 L103.8,280.2 L107.1,277.9 L110.7,275.8 L114.6,273.7 L117.9,272.2 L121.7,270.7 L126.3,269.2 L131.2,267.8 L136.4,266.4 L142.0,265.3 L153.1,263.3 L166.1,262.0 L165.3,253.5 L148.0,255.4 L137.3,257.0 L131.8,258.0 L126.7,259.2 L121.8,260.5 L117.2,262.0 L112.8,263.6 L107.7,265.8 L103.7,267.7 L99.8,269.8 L96.1,272.2 L92.5,274.8 L89.1,277.6 L85.8,280.6 L82.7,283.8 L79.2,287.8 L76.3,291.6 L73.5,295.6 L70.8,300.0 L68.1,304.7 L65.6,309.6 L63.2,315.0 L60.7,320.8 L58.4,327.1 L56.1,333.8 L54.0,340.7 L50.6,353.8 L47.4,368.9 Z" fill="#5050f0" stroke="none" opacity="0.32" clip-path="url(#clipD)"/>
<path d="M58.0,370.6 L60.0,352.2 L62.3,335.8 L63.6,328.7 L64.9,321.8 L66.4,315.1 L68.0,309.1 L69.7,303.5 L71.4,298.3 L73.4,293.4 L75.4,288.9 L77.6,284.7 L79.9,280.8 L82.4,277.1 L85.0,273.7 L87.9,270.5 L91.1,267.3 L94.4,264.5 L97.8,261.9 L101.6,259.4 L105.7,257.1 L110.0,254.9 L114.6,252.8 L119.7,250.9 L125.2,249.1 L131.0,247.4 L137.3,245.8 L144.3,244.3 L151.7,242.8 L166.2,240.6 L165.2,233.6 L156.7,234.9 L147.5,236.4 L140.3,237.8 L133.6,239.3 L127.1,240.9 L121.0,242.7 L115.5,244.5 L109.8,246.7 L105.0,248.7 L100.4,251.0 L96.1,253.4 L92.0,256.0 L88.2,258.8 L84.6,261.8 L81.5,264.8 L78.4,268.2 L75.5,271.9 L72.7,275.8 L70.2,280.0 L67.8,284.5 L65.5,289.4 L63.4,294.5 L61.5,300.0 L59.6,305.9 L57.9,312.1 L56.3,318.9 L54.9,325.9 L53.6,333.3 L52.3,341.6 L51.2,350.4 L49.0,369.7 Z" fill="#5050f0" stroke="none" opacity="0.32" clip-path="url(#clipD)"/>
<path d="M53.6,370.7 L56.3,349.7 L57.8,340.1 L59.4,331.0 L61.0,322.5 L62.7,314.6 L64.5,307.3 L66.3,300.3 L68.3,294.0 L70.3,288.0 L72.4,282.5 L74.7,277.4 L77.0,272.7 L79.5,268.3 L82.1,264.3 L84.9,260.6 L87.8,257.2 L91.0,254.0 L94.3,251.2 L97.8,248.6 L101.5,246.3 L105.5,244.1 L109.9,242.1 L114.5,240.2 L119.4,238.7 L124.7,237.3 L130.4,236.0 L136.6,234.8 L143.5,233.7 L151.1,232.7 L166.0,231.3 L165.4,223.4 L156.4,224.1 L146.8,225.1 L139.4,226.1 L132.5,227.2 L126.1,228.4 L120.1,229.8 L114.7,231.3 L109.0,233.1 L104.2,235.0 L99.7,237.0 L95.4,239.3 L91.4,241.8 L87.5,244.6 L83.9,247.7 L80.7,250.8 L77.6,254.3 L74.5,258.3 L71.5,262.7 L68.8,267.3 L66.2,272.3 L63.7,277.8 L61.4,283.5 L59.1,289.9 L57.0,296.6 L55.1,303.5 L53.2,311.3 L51.4,319.6 L49.7,328.4 L48.1,337.6 L46.5,347.6 L43.6,369.5 Z" fill="#5050f0" stroke="none" opacity="0.32" clip-path="url(#clipD)"/>
<path d="M51.2,350.2 L54.0,332.7 L57.0,317.4 L58.6,310.2 L60.3,303.7 L61.9,297.8 L63.7,291.9 L65.5,286.7 L67.5,281.5 L69.6,276.6 L71.8,272.1 L74.1,267.9 L76.4,264.1 L79.0,260.3 L81.6,257.0 L84.4,253.9 L87.2,251.1 L90.2,248.5 L93.4,246.0 L96.9,243.7 L100.5,241.6 L104.3,239.8 L108.4,238.0 L112.7,236.4 L117.3,234.9 L122.2,233.6 L127.5,232.3 L133.0,231.3 L139.1,230.2 L152.6,228.5" fill="none" stroke="#3a3ad0" stroke-width="1.0" stroke-dasharray="2.2 1.8" opacity="1" clip-path="url(#clipD)" />
<path d="M55.8,349.4 L58.0,334.7 L60.3,322.2 L62.9,310.9 L64.4,305.6 L66.0,300.4 L67.6,295.8 L69.5,291.3 L71.3,287.4 L73.2,283.5 L75.4,279.8 L77.7,276.2 L80.1,272.9 L82.6,269.9 L85.2,267.1 L88.2,264.3 L91.1,261.8 L94.4,259.3 L97.9,257.0 L101.5,254.9 L105.3,252.9 L109.4,251.0 L113.8,249.1 L118.4,247.4 L123.4,245.8 L128.4,244.4 L139.8,241.6 L152.6,239.1" fill="none" stroke="#2a2ab0" stroke-width="1.0" opacity="1" clip-path="url(#clipD)" />
<path d="M59.3,350.1 L62.4,338.6 L65.7,328.2 L69.3,318.5 L73.1,309.9 L75.0,305.9 L77.2,302.0 L79.3,298.5 L81.4,295.2 L83.8,292.0 L86.2,288.9 L88.7,286.1 L91.3,283.4 L93.9,281.0 L96.7,278.6 L99.7,276.4 L102.6,274.4 L105.8,272.5 L109.1,270.8 L112.5,269.1 L116.1,267.6 L119.9,266.2 L123.8,264.9 L132.4,262.7 L141.9,260.7 L152.6,259.1" fill="none" stroke="#4a4ac8" stroke-width="0.7" opacity="1" clip-path="url(#clipD)" />
<line x1="47.6" y1="210.50" x2="55.2" y2="210.50" stroke="#555555" stroke-width="1"/>
<text x="44.7" y="214.3" font-size="10.7" text-anchor="end" font-weight="normal" fill="#1a1a1a" >1.00</text>
<line x1="47.6" y1="260.50" x2="55.2" y2="260.50" stroke="#555555" stroke-width="1"/>
<text x="44.7" y="264.30000000000007" font-size="10.7" text-anchor="end" font-weight="normal" fill="#1a1a1a" >0.95</text>
<text x="44.7" y="314.3" font-size="10.7" text-anchor="end" font-weight="normal" fill="#1a1a1a" >0.90</text>
<text x="47.6" y="324.8" font-size="10.7" text-anchor="middle" font-weight="normal" fill="#1a1a1a" >1</text>
<line x1="73.85" y1="310.5" x2="73.85" y2="302.9" stroke="#555555" stroke-width="1"/>
<text x="73.85" y="324.8" font-size="10.7" text-anchor="middle" font-weight="normal" fill="#1a1a1a" >2</text>
<line x1="100.10" y1="310.5" x2="100.10" y2="302.9" stroke="#555555" stroke-width="1"/>
<text x="100.1" y="324.8" font-size="10.7" text-anchor="middle" font-weight="normal" fill="#1a1a1a" >3</text>
<line x1="126.35" y1="310.5" x2="126.35" y2="302.9" stroke="#555555" stroke-width="1"/>
<text x="126.35" y="324.8" font-size="10.7" text-anchor="middle" font-weight="normal" fill="#1a1a1a" >4</text>
<text x="152.6" y="324.8" font-size="10.7" text-anchor="middle" font-weight="normal" fill="#1a1a1a" >5</text>
<rect x="47.6" y="205.5" width="105.0" height="105.0" fill="none" stroke="#555555" stroke-width="1.1"/>
<text x="100.1" y="342.8" font-size="11" text-anchor="middle" fill="#1a1a1a">Coupling strength <tspan font-style="italic">K</tspan><tspan font-size="7.2" dy="2.6">inter</tspan></text>
<text transform="translate(15.1,261) rotate(-90)" font-size="10.9" text-anchor="middle" fill="#1a1a1a">Order parameter <tspan font-style="italic">r</tspan></text>
<text x="6" y="198.2" font-size="12.4" text-anchor="start" font-weight="bold" fill="#000" >D</text>
<path d="M189.2,349.8 L191.9,336.7 L194.8,324.5 L196.5,318.7 L198.1,313.4 L199.8,308.7 L201.6,304.0 L203.4,299.7 L205.4,295.5 L207.5,291.5 L209.6,287.8 L211.9,284.3 L214.2,281.1 L216.7,278.1 L219.3,275.2 L222.1,272.5 L224.9,270.1 L228.1,267.6 L231.2,265.5 L234.6,263.4 L238.3,261.4 L242.0,259.6 L246.0,258.0 L250.3,256.4 L254.7,254.9 L259.5,253.6 L264.4,252.4 L275.3,250.1 L287.6,248.2 L287.6,262.4 L277.0,264.8 L267.7,267.4 L259.3,270.2 L252.1,273.2 L248.8,274.7 L245.7,276.4 L242.8,278.2 L240.1,280.0 L237.7,281.9 L235.5,283.9 L233.3,286.0 L231.5,288.2 L229.8,290.4 L228.2,292.7 L226.8,295.3 L225.4,298.0 L224.2,300.9 L223.2,303.7 L221.4,310.2 L220.0,317.7 L218.9,326.4 L218.0,337.5 L217.4,349.0 Z" fill="#fbd088" stroke="none" opacity="0.55" clip-path="url(#clipE)"/>
<path d="M207.2,349.9 L208.5,339.7 L210.1,330.8 L212.0,323.1 L214.2,316.0 L216.8,309.7 L218.4,306.5 L220.0,303.7 L221.7,301.0 L223.6,298.5 L225.6,296.0 L227.8,293.5 L230.2,291.1 L232.7,288.9 L235.3,286.8 L238.1,284.8 L241.1,282.8 L244.3,280.9 L251.2,277.3 L259.0,273.9 L267.5,270.8 L277.0,267.9 L287.6,265.2 L287.6,283.0 L279.8,285.7 L272.7,288.5 L265.8,291.5 L259.5,294.6 L253.6,297.9 L248.0,301.4 L242.8,305.2 L238.0,309.1 L233.6,313.2 L229.4,317.6 L225.6,322.2 L222.1,327.0 L218.8,332.3 L215.8,337.8 L212.9,343.9 L210.4,350.1 Z" fill="#fbd088" stroke="none" opacity="0.55" clip-path="url(#clipE)"/>
<path d="M205.9,350.3 L208.7,342.6 L211.6,335.6 L214.7,329.2 L218.2,323.1 L222.0,317.2 L226.1,311.7 L230.4,306.8 L235.1,301.9 L240.2,297.4 L245.7,293.2 L251.4,289.3 L257.7,285.5 L264.4,282.0 L271.6,278.7 L279.4,275.5 L287.6,272.6 L287.6,287.9 L282.5,290.7 L277.6,293.7 L273.0,296.7 L268.5,299.9 L264.2,303.2 L260.1,306.6 L256.2,310.3 L252.4,314.1 L248.9,317.8 L245.5,321.9 L242.2,326.2 L239.1,330.6 L236.1,335.2 L233.2,340.1 L230.5,345.0 L227.9,350.3 Z" fill="#fbd088" stroke="none" opacity="0.55" clip-path="url(#clipE)"/>
<path d="M199.2,350.5 L200.5,339.1 L202.3,328.2 L204.3,318.9 L206.6,311.0 L208.1,307.0 L209.5,303.5 L211.1,300.1 L212.8,296.9 L214.7,293.7 L216.7,290.8 L218.9,288.0 L221.2,285.3 L223.7,282.7 L226.5,280.2 L229.4,277.8 L232.4,275.5 L235.7,273.3 L239.2,271.2 L243.0,269.1 L246.9,267.1 L255.4,263.5 L265.0,260.0 L275.7,256.8 L287.6,253.8" fill="none" stroke="#f0bc60" stroke-width="0.8" stroke-dasharray="2 1.8" opacity="1" clip-path="url(#clipE)" />
<path d="M207.2,350.1 L209.8,342.8 L212.8,335.6 L215.9,329.2 L219.2,323.3 L222.8,317.6 L226.7,312.3 L231.0,307.3 L235.6,302.6 L240.6,298.2 L246.0,294.0 L251.7,290.0 L258.0,286.3 L264.7,282.8 L271.8,279.6 L279.4,276.5 L287.6,273.6" fill="none" stroke="#f4bc58" stroke-width="1.0" opacity="1" clip-path="url(#clipE)" />
<line x1="182.5" y1="210.50" x2="190.1" y2="210.50" stroke="#555555" stroke-width="1"/>
<line x1="182.5" y1="260.50" x2="190.1" y2="260.50" stroke="#555555" stroke-width="1"/>
<text x="182.5" y="324.8" font-size="10.7" text-anchor="middle" font-weight="normal" fill="#1a1a1a" >1</text>
<line x1="208.78" y1="310.5" x2="208.78" y2="302.9" stroke="#555555" stroke-width="1"/>
<text x="208.775" y="324.8" font-size="10.7" text-anchor="middle" font-weight="normal" fill="#1a1a1a" >2</text>
<line x1="235.05" y1="310.5" x2="235.05" y2="302.9" stroke="#555555" stroke-width="1"/>
<text x="235.05" y="324.8" font-size="10.7" text-anchor="middle" font-weight="normal" fill="#1a1a1a" >3</text>
<line x1="261.33" y1="310.5" x2="261.33" y2="302.9" stroke="#555555" stroke-width="1"/>
<text x="261.32500000000005" y="324.8" font-size="10.7" text-anchor="middle" font-weight="normal" fill="#1a1a1a" >4</text>
<text x="287.6" y="324.8" font-size="10.7" text-anchor="middle" font-weight="normal" fill="#1a1a1a" >5</text>
<rect x="182.5" y="205.5" width="105.10000000000002" height="105.0" fill="none" stroke="#555555" stroke-width="1.1"/>
<text x="235.05" y="342.8" font-size="11" text-anchor="middle" fill="#1a1a1a">Coupling strength <tspan font-style="italic">K</tspan><tspan font-size="7.2" dy="2.6">inter</tspan></text>
<text x="176" y="198.2" font-size="12.4" text-anchor="start" font-weight="bold" fill="#000" >E</text>
<path d="M326.0,370.7 L328.3,350.4 L330.8,332.8 L332.1,324.9 L333.6,317.5 L335.2,310.2 L336.8,303.7 L338.5,297.8 L340.3,292.3 L342.2,287.1 L344.2,282.5 L346.4,278.2 L348.7,274.2 L351.1,270.5 L353.8,267.1 L356.5,264.0 L359.4,261.2 L362.6,258.7 L366.0,256.3 L369.6,254.1 L373.6,252.1 L377.8,250.3 L382.4,248.6 L387.3,247.1 L392.7,245.7 L398.5,244.5 L404.8,243.3 L412.0,242.2 L419.7,241.3 L435.1,239.8 L434.6,233.3 L415.9,235.1 L408.6,236.0 L401.8,237.0 L395.3,238.2 L389.4,239.4 L383.9,240.9 L378.6,242.5 L373.8,244.2 L369.4,246.1 L365.1,248.3 L361.2,250.6 L357.6,253.1 L354.2,255.9 L350.9,258.9 L347.9,262.2 L345.0,265.8 L342.3,269.8 L339.8,274.0 L337.4,278.6 L335.2,283.6 L333.1,289.0 L331.2,294.7 L329.3,300.9 L327.6,307.4 L326.0,314.5 L324.5,322.2 L323.1,330.3 L321.7,339.2 L320.4,348.6 L318.0,369.9 Z" fill="#28d028" stroke="none" opacity="0.27" clip-path="url(#clipF)"/>
<path d="M325.8,370.5 L327.6,349.8 L329.8,331.9 L330.9,323.9 L332.2,316.4 L333.6,309.4 L335.1,302.9 L336.6,297.0 L338.3,291.6 L340.1,286.6 L342.0,281.9 L344.0,277.5 L346.3,273.5 L348.6,269.8 L351.2,266.4 L354.0,263.3 L357.0,260.3 L360.5,257.4 L364.0,254.9 L367.8,252.6 L372.0,250.4 L376.5,248.3 L381.4,246.4 L386.1,244.9 L391.9,243.3 L398.0,241.8 L404.5,240.4 L411.8,239.1 L419.7,237.9 L435.2,236.1 L434.5,229.1 L425.4,230.1 L415.3,231.4 L407.6,232.6 L400.5,233.8 L393.9,235.2 L387.7,236.7 L382.2,238.2 L375.8,240.3 L370.9,242.2 L366.2,244.3 L361.9,246.5 L357.9,249.0 L354.1,251.7 L350.9,254.4 L347.6,257.5 L344.6,260.9 L341.7,264.6 L339.0,268.6 L336.5,272.9 L334.3,277.5 L332.1,282.5 L330.2,287.7 L328.3,293.5 L326.6,299.7 L325.1,306.2 L323.6,313.4 L322.3,321.2 L321.0,329.4 L319.9,338.2 L318.8,348.1 L316.8,369.8 Z" fill="#28d028" stroke="none" opacity="0.27" clip-path="url(#clipF)"/>
<path d="M323.8,370.6 L326.1,347.7 L328.7,327.9 L330.1,319.1 L331.5,310.8 L333.1,303.1 L334.8,296.0 L336.5,289.4 L338.3,283.3 L340.2,277.7 L342.3,272.5 L344.4,267.8 L346.7,263.4 L349.2,259.4 L351.8,255.7 L354.6,252.4 L357.5,249.4 L360.9,246.5 L364.4,243.9 L368.1,241.6 L372.1,239.5 L376.5,237.5 L381.2,235.8 L385.8,234.3 L391.4,232.9 L397.4,231.6 L403.9,230.4 L411.2,229.4 L419.1,228.4 L435.1,227.0 L434.6,220.0 L425.3,220.8 L415.0,221.8 L407.3,222.7 L400.3,223.7 L393.6,224.9 L387.5,226.2 L382.2,227.6 L376.0,229.4 L371.2,231.2 L366.6,233.2 L362.4,235.5 L358.5,237.9 L354.8,240.6 L351.5,243.4 L348.3,246.6 L345.2,250.2 L342.2,254.2 L339.5,258.4 L337.0,263.0 L334.5,268.1 L332.3,273.6 L330.2,279.5 L328.2,285.9 L326.3,292.8 L324.6,300.1 L322.9,308.2 L321.3,316.8 L319.9,326.0 L318.5,335.7 L317.2,346.2 L314.8,369.8 Z" fill="#28d028" stroke="none" opacity="0.27" clip-path="url(#clipF)"/>
<path d="M321.4,349.3 L323.7,331.1 L326.3,314.4 L329.1,300.4 L330.6,294.1 L332.2,287.9 L333.9,282.5 L335.7,277.2 L337.6,272.1 L339.6,267.6 L341.8,263.4 L343.9,259.6 L346.3,255.9 L348.8,252.6 L351.4,249.5 L354.2,246.7 L357.2,244.1 L360.5,241.6 L363.8,239.4 L367.4,237.4 L371.3,235.5 L375.4,233.8 L379.8,232.2 L384.6,230.8 L389.7,229.5 L395.1,228.3 L401.0,227.2 L407.4,226.3 L421.7,224.6" fill="none" stroke="#4cc04c" stroke-width="0.9" stroke-dasharray="2 1.8" opacity="1" clip-path="url(#clipF)" />
<path d="M323.2,349.0 L325.2,332.3 L327.3,318.4 L329.8,305.9 L331.2,299.8 L332.7,294.4 L334.4,289.3 L336.0,284.7 L337.8,280.4 L339.6,276.5 L341.8,272.5 L343.9,269.1 L346.2,265.8 L348.6,262.7 L351.3,259.9 L354.1,257.2 L357.0,254.8 L360.3,252.4 L363.8,250.2 L367.4,248.2 L371.3,246.3 L375.6,244.5 L380.0,242.9 L384.8,241.4 L389.9,240.0 L395.4,238.6 L401.3,237.4 L407.7,236.2 L421.7,234.1" fill="none" stroke="#40ba40" stroke-width="1.0" opacity="1" clip-path="url(#clipF)" />
<path d="M324.4,349.3 L326.6,333.2 L329.1,319.3 L331.9,306.8 L333.4,301.2 L335.0,295.6 L336.7,290.7 L338.5,286.0 L340.3,281.8 L342.2,277.7 L344.4,273.8 L346.5,270.4 L349.0,267.0 L351.4,263.9 L354.1,261.1 L356.7,258.6 L359.6,256.2 L362.8,254.0 L366.0,251.9 L369.7,250.0 L373.4,248.2 L377.4,246.7 L381.6,245.2 L386.2,243.8 L391.2,242.6 L396.4,241.4 L408.1,239.4 L421.7,237.8" fill="none" stroke="#6cce6c" stroke-width="0.8" opacity="1" clip-path="url(#clipF)" />
<line x1="316.8" y1="210.50" x2="324.40000000000003" y2="210.50" stroke="#555555" stroke-width="1"/>
<line x1="316.8" y1="260.50" x2="324.40000000000003" y2="260.50" stroke="#555555" stroke-width="1"/>
<text x="316.8" y="324.8" font-size="10.7" text-anchor="middle" font-weight="normal" fill="#1a1a1a" >1</text>
<line x1="343.02" y1="310.5" x2="343.02" y2="302.9" stroke="#555555" stroke-width="1"/>
<text x="343.025" y="324.8" font-size="10.7" text-anchor="middle" font-weight="normal" fill="#1a1a1a" >2</text>
<line x1="369.25" y1="310.5" x2="369.25" y2="302.9" stroke="#555555" stroke-width="1"/>
<text x="369.25" y="324.8" font-size="10.7" text-anchor="middle" font-weight="normal" fill="#1a1a1a" >3</text>
<line x1="395.48" y1="310.5" x2="395.48" y2="302.9" stroke="#555555" stroke-width="1"/>
<text x="395.475" y="324.8" font-size="10.7" text-anchor="middle" font-weight="normal" fill="#1a1a1a" >4</text>
<text x="421.7" y="324.8" font-size="10.7" text-anchor="middle" font-weight="normal" fill="#1a1a1a" >5</text>
<rect x="316.8" y="205.5" width="104.89999999999998" height="105.0" fill="none" stroke="#555555" stroke-width="1.1"/>
<text x="369.25" y="342.8" font-size="11" text-anchor="middle" fill="#1a1a1a">Coupling strength <tspan font-style="italic">K</tspan><tspan font-size="7.2" dy="2.6">inter</tspan></text>
<text x="310" y="198.2" font-size="12.4" text-anchor="start" font-weight="bold" fill="#000" >F</text>
<path d="M458.4,370.3 L460.4,347.4 L462.7,327.9 L464.0,319.1 L465.3,310.9 L466.8,303.4 L468.3,296.2 L469.9,289.9 L471.6,284.0 L473.4,278.5 L475.4,273.4 L477.4,268.9 L479.6,264.7 L482.0,260.8 L484.6,257.3 L487.3,254.1 L490.2,251.2 L493.6,248.3 L496.9,245.9 L500.6,243.6 L504.6,241.6 L509.0,239.7 L513.7,238.0 L518.6,236.5 L524.4,235.0 L530.6,233.7 L537.3,232.5 L545.3,231.3 L554.1,230.2 L569.1,229.0 L568.7,223.5 L547.6,225.3 L540.2,226.1 L533.5,227.0 L526.8,228.1 L520.7,229.4 L514.6,230.9 L509.5,232.4 L504.5,234.1 L500.0,236.0 L495.7,238.1 L491.8,240.5 L488.0,243.2 L484.8,245.8 L481.7,248.9 L478.7,252.3 L475.9,256.1 L473.2,260.2 L470.7,264.8 L468.5,269.6 L466.3,274.9 L464.4,280.6 L462.5,286.8 L460.8,293.4 L459.2,300.5 L457.7,308.3 L456.3,316.7 L454.9,325.8 L453.7,335.5 L452.5,346.1 L450.4,369.7 Z" fill="#f03030" stroke="none" opacity="0.33" clip-path="url(#clipG)"/>
<path d="M457.2,370.4 L459.2,347.1 L461.5,327.3 L462.7,318.2 L464.1,309.8 L465.5,302.2 L467.0,295.0 L468.6,288.2 L470.4,282.1 L472.2,276.6 L474.1,271.5 L476.2,266.7 L478.5,262.4 L480.9,258.5 L483.4,254.9 L486.2,251.6 L489.1,248.7 L492.2,246.0 L495.9,243.3 L499.6,241.1 L503.7,239.0 L508.1,237.1 L512.9,235.4 L517.7,233.9 L523.6,232.4 L529.9,231.1 L536.8,229.8 L544.9,228.7 L553.8,227.6 L569.1,226.3 L568.7,220.8 L547.3,222.6 L539.8,223.4 L532.9,224.3 L526.2,225.4 L520.0,226.7 L513.8,228.2 L508.6,229.7 L503.6,231.5 L499.0,233.4 L494.7,235.5 L490.7,237.9 L487.2,240.4 L483.7,243.3 L480.5,246.5 L477.5,249.9 L474.7,253.7 L472.1,257.9 L469.6,262.4 L467.3,267.3 L465.2,272.7 L463.2,278.5 L461.3,284.8 L459.6,291.4 L458.0,298.8 L456.5,306.8 L455.0,315.5 L453.7,324.9 L452.5,334.8 L451.3,345.9 L449.2,369.8 Z" fill="#f03030" stroke="none" opacity="0.33" clip-path="url(#clipG)"/>
<path d="M456.2,349.1 L458.4,330.3 L460.7,314.5 L462.0,307.0 L463.3,300.4 L464.6,294.5 L466.1,288.7 L467.7,283.0 L469.4,278.1 L471.2,273.3 L473.0,269.1 L475.1,264.8 L477.2,261.1 L479.5,257.6 L482.0,254.3 L484.6,251.3 L487.4,248.6 L490.4,246.1 L493.5,243.8 L496.8,241.7 L500.4,239.8 L504.3,237.9 L508.4,236.3 L512.8,234.8 L517.6,233.4 L522.8,232.1 L528.4,231.0 L534.5,229.9 L541.0,229.0 L555.8,227.3" fill="none" stroke="#e43030" stroke-width="1.1" opacity="1" clip-path="url(#clipG)" />
<path d="M454.9,349.7 L457.1,330.2 L459.4,313.8 L460.7,306.1 L462.0,299.3 L463.3,293.2 L464.8,287.3 L466.4,281.5 L468.1,276.4 L469.9,271.5 L471.8,266.8 L474.0,262.5 L476.1,258.7 L478.4,255.2 L480.8,251.9 L483.5,248.9 L486.3,246.1 L489.2,243.6 L492.3,241.3 L495.8,239.1 L499.4,237.2 L503.3,235.3 L507.6,233.6 L512.0,232.1 L516.9,230.7 L522.2,229.5 L527.9,228.3 L534.0,227.2 L540.7,226.3 L555.8,224.6" fill="none" stroke="#6a3030" stroke-width="0.8" stroke-dasharray="2 1.8" opacity="1" clip-path="url(#clipG)" />
<line x1="451" y1="210.50" x2="458.6" y2="210.50" stroke="#555555" stroke-width="1"/>
<line x1="451" y1="260.50" x2="458.6" y2="260.50" stroke="#555555" stroke-width="1"/>
<text x="451.0" y="324.8" font-size="10.7" text-anchor="middle" font-weight="normal" fill="#1a1a1a" >1</text>
<line x1="477.20" y1="310.5" x2="477.20" y2="302.9" stroke="#555555" stroke-width="1"/>
<text x="477.2" y="324.8" font-size="10.7" text-anchor="middle" font-weight="normal" fill="#1a1a1a" >2</text>
<line x1="503.40" y1="310.5" x2="503.40" y2="302.9" stroke="#555555" stroke-width="1"/>
<text x="503.4" y="324.8" font-size="10.7" text-anchor="middle" font-weight="normal" fill="#1a1a1a" >3</text>
<line x1="529.60" y1="310.5" x2="529.60" y2="302.9" stroke="#555555" stroke-width="1"/>
<text x="529.5999999999999" y="324.8" font-size="10.7" text-anchor="middle" font-weight="normal" fill="#1a1a1a" >4</text>
<text x="555.8" y="324.8" font-size="10.7" text-anchor="middle" font-weight="normal" fill="#1a1a1a" >5</text>
<rect x="451" y="205.5" width="104.79999999999995" height="105.0" fill="none" stroke="#555555" stroke-width="1.1"/>
<text x="503.4" y="342.8" font-size="11" text-anchor="middle" fill="#1a1a1a">Coupling strength <tspan font-style="italic">K</tspan><tspan font-size="7.2" dy="2.6">inter</tspan></text>
<text x="443.5" y="198.2" font-size="12.4" text-anchor="start" font-weight="bold" fill="#000" >G</text>
<path d="M612.4,350.0 L616.1,338.1 L619.9,327.1 L623.9,316.8 L628.1,307.4 L632.6,298.4 L637.2,290.2 L642.2,282.5 L647.3,275.6 L652.7,269.1 L658.5,263.2 L664.6,257.9 L671.1,252.9 L678.0,248.4 L685.3,244.4 L693.2,240.7 L701.5,237.5 L701.5,286.2 L690.8,293.2 L680.4,300.5 L670.2,308.1 L660.2,316.0 L650.5,324.2 L641.0,332.7 L631.9,341.4 L623.0,350.5 Z" fill="#a8a8a8" stroke="none" opacity="0.65" clip-path="url(#clipI)"/>
<path d="M608.3,350.0 L611.9,335.8 L615.8,322.7 L619.9,310.1 L624.3,298.7 L628.7,288.4 L633.5,278.8 L636.1,274.2 L638.6,269.9 L641.2,265.9 L643.9,262.0 L646.6,258.3 L649.5,254.7 L652.6,251.2 L655.6,248.0 L658.8,244.9 L662.0,242.0 L665.4,239.2 L668.9,236.6 L672.6,234.0 L676.2,231.7 L680.1,229.4 L684.1,227.3 L688.2,225.3 L692.4,223.5 L696.9,221.7 L701.5,220.0 L701.5,235.2 L693.7,239.0 L686.3,243.2 L679.4,247.6 L672.9,252.5 L666.6,257.9 L660.7,263.6 L655.1,269.8 L649.8,276.4 L644.7,283.6 L639.8,291.5 L635.1,299.7 L630.6,308.6 L626.3,318.2 L622.3,328.1 L618.5,338.6 L614.7,350.2 Z" fill="#a8a8a8" stroke="none" opacity="0.65" clip-path="url(#clipI)"/>
<path d="M611.6,350.4 L615.3,337.6 L619.3,325.3 L623.3,314.3 L627.6,303.7 L632.1,294.0 L636.9,284.7 L641.8,276.4 L647.1,268.5 L652.7,261.3 L658.5,254.8 L664.6,248.9 L671.1,243.3 L678.0,238.3 L685.3,233.7 L693.2,229.5 L701.5,225.8" fill="none" stroke="#333" stroke-width="0.9" opacity="1" clip-path="url(#clipI)" />
<path d="M627.4,350.4 L630.5,341.9 L633.7,333.8 L637.0,326.2 L640.6,319.1 L644.2,312.4 L648.2,306.0 L652.4,300.0 L656.7,294.5 L661.4,289.3 L666.2,284.5 L671.3,280.0 L676.5,275.8 L682.3,271.8 L688.4,268.1 L694.8,264.7 L701.5,261.5" fill="none" stroke="#444" stroke-width="0.7" stroke-dasharray="1 1" opacity="1" clip-path="url(#clipI)" />
<line x1="599.3" y1="207.80" x2="606.9" y2="207.80" stroke="#555555" stroke-width="1"/>
<text x="596.4" y="211.60000000000002" font-size="10.7" text-anchor="end" font-weight="normal" fill="#1a1a1a" >0.96</text>
<line x1="599.3" y1="242.03" x2="606.9" y2="242.03" stroke="#555555" stroke-width="1"/>
<text x="596.4" y="245.83333333333343" font-size="10.7" text-anchor="end" font-weight="normal" fill="#1a1a1a" >0.94</text>
<line x1="599.3" y1="276.27" x2="606.9" y2="276.27" stroke="#555555" stroke-width="1"/>
<text x="596.4" y="280.0666666666666" font-size="10.7" text-anchor="end" font-weight="normal" fill="#1a1a1a" >0.92</text>
<text x="596.4" y="314.3" font-size="10.7" text-anchor="end" font-weight="normal" fill="#1a1a1a" >0.90</text>
<text x="599.3" y="324.8" font-size="10.7" text-anchor="middle" font-weight="normal" fill="#1a1a1a" >1</text>
<line x1="624.85" y1="310.5" x2="624.85" y2="302.9" stroke="#555555" stroke-width="1"/>
<text x="624.8499999999999" y="324.8" font-size="10.7" text-anchor="middle" font-weight="normal" fill="#1a1a1a" >2</text>
<line x1="650.40" y1="310.5" x2="650.40" y2="302.9" stroke="#555555" stroke-width="1"/>
<text x="650.4" y="324.8" font-size="10.7" text-anchor="middle" font-weight="normal" fill="#1a1a1a" >3</text>
<line x1="675.95" y1="310.5" x2="675.95" y2="302.9" stroke="#555555" stroke-width="1"/>
<text x="675.95" y="324.8" font-size="10.7" text-anchor="middle" font-weight="normal" fill="#1a1a1a" >4</text>
<text x="701.5" y="324.8" font-size="10.7" text-anchor="middle" font-weight="normal" fill="#1a1a1a" >5</text>
<rect x="599.3" y="205.4" width="102.20000000000005" height="105.1" fill="none" stroke="#555555" stroke-width="1.1"/>
<text x="650.4" y="342.8" font-size="11" text-anchor="middle" fill="#1a1a1a">Coupling strength <tspan font-style="italic">K</tspan><tspan font-size="7.2" dy="2.6">inter</tspan></text>
<rect x="599.8" y="206.6" width="7" height="2.2" fill="#a8a8a8"/>
<text x="566.5" y="198.2" font-size="12.4" text-anchor="start" font-weight="bold" fill="#000" >I</text>
<line x1="604.9" y1="216.4" x2="624.2" y2="216.4" stroke="#333" stroke-width="1"/>
<text x="629.2" y="219.7" font-size="10.2" text-anchor="start" font-weight="normal" fill="#1a1a1a" >α = 10</text>
<line x1="604.9" y1="228.6" x2="624.2" y2="228.6" stroke="#555" stroke-width="0.8" stroke-dasharray="1 1"/>
<text x="629.2" y="231.7" font-size="10.2" text-anchor="start" font-weight="normal" fill="#1a1a1a" >α = 0</text>
</svg>
</body></html>
